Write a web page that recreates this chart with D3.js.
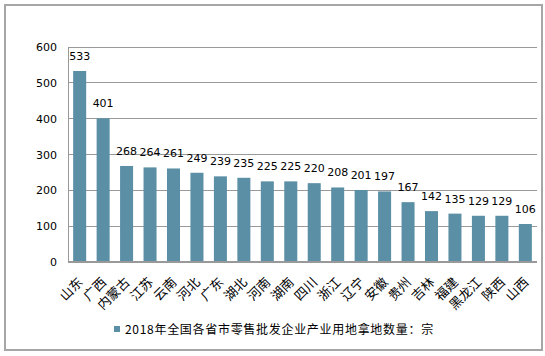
<!DOCTYPE html>
<html><head><meta charset="utf-8">
<script src="https://cdn.jsdelivr.net/npm/d3@7"></script>
<style>body{margin:0;background:#fff}svg{display:block}</style>
</head><body>
<script>
const cats = ["山东","广西","内蒙古","江苏","云南","河北","广东","湖北","河南","湖南","四川","浙江","辽宁","安徽","贵州","吉林","福建","黑龙江","陕西","山西"];
const values = [533,401,268,264,261,249,239,235,225,225,220,208,201,197,167,142,135,129,129,106];
const yTicks = [0,100,200,300,400,500,600];
const seriesName = "2018年全国各省市零售批发企业产业用地拿地数量：宗";

const W = 545, H = 356;
const svg = d3.select("body").append("svg").attr("width", W).attr("height", H);
svg.append("rect").attr("x",5).attr("y",5).attr("width",537).attr("height",345)
  .attr("fill","#fff").attr("stroke","#a6a6a6").attr("stroke-width",2);

const pL = 68, pR = 537, pT = 47, pB = 262;
const x = d3.scaleBand().domain(cats).range([pL, pR]).paddingInner(0.445).paddingOuter(0.22);
const y = d3.scaleLinear().domain([0,600]).range([pB, pT]);
const font = "'DejaVu Sans', Verdana, sans-serif";

const grid = svg.append("g");
grid.selectAll("line").data(yTicks.filter(d=>d>0)).join("line")
  .attr("x1", pL).attr("x2", pR).attr("y1", d=>y(d)).attr("y2", d=>y(d))
  .attr("stroke","#999").attr("stroke-width",1).attr("shape-rendering","crispEdges");

const yAxis = svg.append("g").attr("transform",`translate(${pL},0)`)
  .call(d3.axisLeft(y).tickValues(yTicks).tickSize(0).tickPadding(11));
yAxis.select(".domain").attr("stroke","#999").attr("shape-rendering","crispEdges");
yAxis.selectAll("text").attr("font-family",font).attr("font-size",11).attr("fill","#000");

svg.append("g").selectAll("rect").data(values).join("rect")
  .attr("x",(d,i)=>x(cats[i])).attr("width",x.bandwidth())
  .attr("y",d=>y(d)).attr("height",d=>pB-y(d)).attr("fill","#5b8fa6");

svg.append("line").attr("x1",pL).attr("x2",pR).attr("y1",pB).attr("y2",pB)
  .attr("stroke","#999").attr("stroke-width",1.5).attr("shape-rendering","crispEdges");

svg.append("g").selectAll("text").data(values).join("text")
  .attr("x",(d,i)=>x(cats[i])+x.bandwidth()/2).attr("y",d=>y(d)-11)
  .attr("text-anchor","middle").attr("font-family",font).attr("font-size",11).attr("fill","#000")
  .text(d=>d);

const xAxis = svg.append("g").attr("transform",`translate(0,${pB})`)
  .call(d3.axisBottom(x).tickSize(0).tickPadding(0));
xAxis.select(".domain").remove();
xAxis.selectAll("text")
  .attr("font-family","'Noto Sans CJK SC', sans-serif").attr("font-size",13).attr("fill","#000")
  .attr("text-anchor","end").attr("dy",0)
  .attr("transform","translate(4,21) rotate(-45)");

const lg = svg.append("g").attr("transform","translate(114,326)");
lg.append("rect").attr("width",6).attr("height",6).attr("fill","#5b8fa6");
lg.append("text").attr("x",11).attr("y",8).attr("font-family","'Noto Sans CJK SC', sans-serif")
  .attr("font-size",12).attr("letter-spacing",0.7).attr("fill","#000").text(seriesName);
</script>
</body></html>
